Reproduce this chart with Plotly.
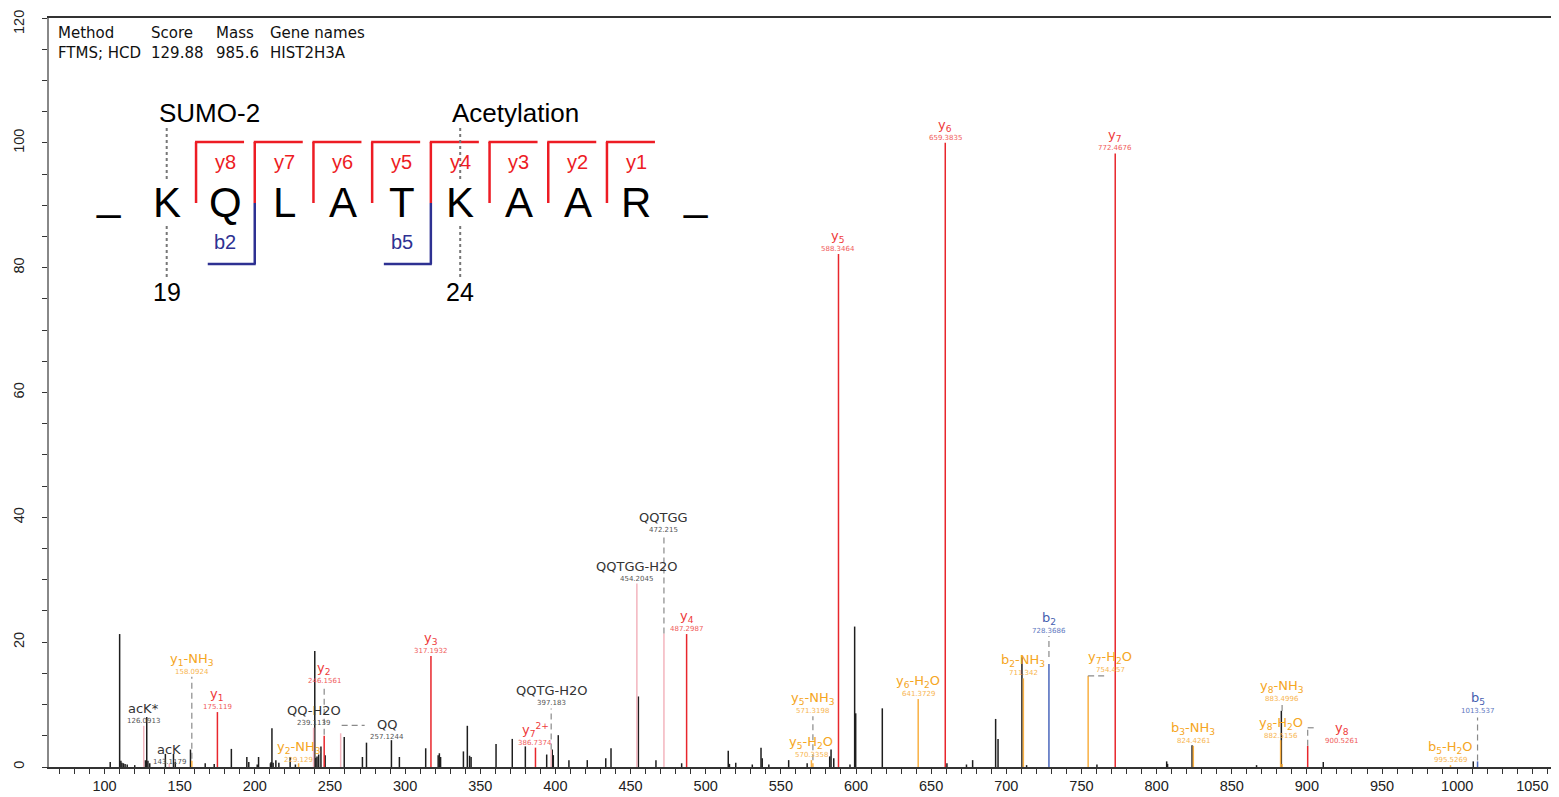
import plotly.graph_objects as go

# ---------------- data ----------------
# unannotated (black) peaks: m/z and relative intensity (%)
peak_mz = [103.8, 110.07, 110.9, 111.6, 112.6, 113.7, 115.1, 120.1, 127.1, 128.1, 128.9, 130.1,
           140.5, 145.9, 147.1, 157.2, 167.0, 173.0, 184.4, 194.7, 196.0, 201.6, 202.5, 210.4,
           210.9, 211.4, 212.2, 214.0, 216.0, 223.5, 227.0, 239.9, 240.6, 241.4, 242.5, 244.0,
           246.8, 259.5, 271.6, 274.3, 290.9, 296.2, 313.7, 322.0, 322.8, 323.6, 338.8, 341.4,
           342.9, 343.9, 360.5, 371.3, 380.0, 394.2, 397.9, 398.6, 401.9, 409.0, 421.2, 433.5,
           437.0, 455.2, 466.9, 484.0, 515.0, 515.8, 520.0, 531.0, 536.8, 537.6, 542.0, 555.2,
           567.5, 582.5, 583.4, 585.2, 596.0, 599.1, 599.8, 617.5, 660.5, 673.5, 677.6, 692.9,
           694.5, 710.4, 713.5, 760.3, 806.7, 807.3, 823.6, 866.5, 883.0, 910.9, 1010.7]
peak_int = [0.8, 21.3, 1.0, 0.7, 0.6, 0.5, 0.4, 0.3, 1.1, 8.0, 1.0, 0.6,
            2.1, 2.1, 0.8, 2.8, 0.6, 0.5, 2.9, 1.6, 0.8, 0.4, 1.6, 0.6,
            0.8, 6.2, 0.7, 1.1, 0.7, 1.6, 0.4, 18.6, 1.5, 1.7, 2.0, 3.3,
            1.9, 4.8, 1.6, 3.9, 4.3, 1.6, 3.0, 1.9, 2.2, 1.6, 2.5, 6.6,
            1.8, 1.6, 3.7, 4.5, 3.3, 2.0, 2.8, 1.9, 5.1, 1.1, 1.1, 1.4,
            3.0, 11.3, 1.1, 0.6, 2.6, 0.5, 0.7, 0.4, 3.1, 1.4, 0.4, 1.1,
            0.6, 1.7, 2.8, 1.4, 0.4, 22.5, 8.6, 9.4, 0.6, 0.4, 1.1, 7.7,
            4.5, 17.6, 0.3, 0.4, 0.9, 0.5, 3.5, 0.3, 9.0, 0.8, 0.9]

# annotated fragment ions
ion_key = ["acK*", "acK", "y1-NH3", "y1", "y2-NH3", "QQ-H2O", "y2", "QQ", "y3", "y7++",
           "QQTG-H2O", "QQTGG-H2O", "QQTGG", "y4", "y5-H2O", "y5-NH3", "y5", "y6-H2O", "y6",
           "b2-NH3", "b2", "y7-H2O", "y7", "b3-NH3", "y8-H2O", "y8-NH3", "y8", "b5-H2O", "b5"]
ion_text = ["acK*", "acK", "y<sub>1</sub>-NH<sub>3</sub>", "y<sub>1</sub>", "y<sub>2</sub>-NH<sub>3</sub>",
            "QQ-H2O", "y<sub>2</sub>", "QQ", "y<sub>3</sub>", "y<sub>7</sub><sup>2+</sup>",
            "QQTG-H2O", "QQTGG-H2O", "QQTGG", "y<sub>4</sub>", "y<sub>5</sub>-H<sub>2</sub>O",
            "y<sub>5</sub>-NH<sub>3</sub>", "y<sub>5</sub>", "y<sub>6</sub>-H<sub>2</sub>O", "y<sub>6</sub>",
            "b<sub>2</sub>-NH<sub>3</sub>", "b<sub>2</sub>", "y<sub>7</sub>-H<sub>2</sub>O", "y<sub>7</sub>",
            "b<sub>3</sub>-NH<sub>3</sub>", "y<sub>8</sub>-H<sub>2</sub>O", "y<sub>8</sub>-NH<sub>3</sub>",
            "y<sub>8</sub>", "b<sub>5</sub>-H<sub>2</sub>O", "b<sub>5</sub>"]
ion_mz = [126.0913, 143.1179, 158.0924, 175.119, 229.129, 239.1139, 246.1561, 257.1244, 317.1932,
          386.7374, 397.183, 454.2045, 472.215, 487.2987, 570.3358, 571.3198, 588.3464, 641.3729,
          659.3835, 711.342, 728.3686, 754.457, 772.4676, 824.4261, 882.5156, 883.4996, 900.5261,
          995.5269, 1013.537]
ion_int = [6.6, 0.5, 1.0, 8.8, 0.6, 6.3, 5.0, 5.4, 17.8, 3.1, 2.8, 29.4, 21.4, 21.3, 1.1, 0.6,
           82.2, 10.9, 100.0, 14.2, 16.5, 14.6, 98.3, 3.4, 4.3, 0.5, 3.4, 0.3, 0.9]
ion_kind = ["int", "int", "loss", "y", "loss", "int", "y", "int", "y", "y", "int", "int", "int", "y",
            "loss", "loss", "y", "loss", "y", "loss", "b", "loss", "y", "loss", "loss", "loss", "y",
            "loss", "b"]

# header table
header_cols = ["Method", "Score", "Mass", "Gene names"]
header_vals = ["FTMS; HCD", "129.88", "985.6", "HIST2H3A"]

# peptide sequence
sequence = ["_", "K", "Q", "L", "A", "T", "K", "A", "A", "R", "_"]
y_ions_seen = [1, 2, 3, 4, 5, 6, 7, 8]
b_ions_seen = [2, 5]
mods = [(1, "SUMO-2", "19"), (6, "Acetylation", "24")]

# axis ticks
x_ticks = list(range(100, 1051, 50))
y_ticks = list(range(0, 121, 20))

# ---------------- styles ----------------
BAR_COL = {"black": "#1e1e1e", "y": "#E8262C", "b": "#4A67BC", "loss": "#F9B043", "int": "#F3B5BE"}
NAME_COL = {"y": "#EE3A3A", "b": "#4560B0", "loss": "#F5A623", "int": "#333333"}
MZ_COL = {"y": "#F05C5C", "b": "#6078C0", "loss": "#F7B551", "int": "#555555"}

# label placement (px): lift = m/z text centre above peak top, dx = horizontal shift
label_pos = {
    "acK": dict(lift=2), "y2-NH3": dict(lift=3),
    "y1-NH3": dict(lift=89), "y2": dict(lift=55), "QQ": dict(lift=-4, dx=46),
    "QQTG-H2O": dict(lift=46.5), "QQTGG": dict(lift=103), "y5-NH3": dict(lift=52),
    "b2": dict(lift=33), "y7-H2O": dict(lift=6, dx=22), "y8-NH3": dict(lift=65),
    "y8": dict(lift=5, dx=34), "b5": dict(lift=50), "y8-H2O": dict(lift=4),
}
# dashed connectors (pixel segments relative to peak top)
connectors = {
    "y1-NH3": [(0, 2, 0, 84)], "y2": [(0, 1, 0, 50)], "QQ": [(1, 8, 24, 8)],
    "QQTG-H2O": [(0, 0, 0, 41)], "QQTGG": [(0, 0, 0, 98)], "y5-NH3": [(0, 3, 0, 47)],
    "b2": [(0, 7, 0, 28)], "y7-H2O": [(0, 0, 20, 0)], "y8-NH3": [(0, 53, 0, 60)],
    "y8": [(0, 0, 0, 18), (0, 18, 9, 18)], "b5": [(0, 1, 0, 44)],
}

LABEL_FONT = "DejaVu Sans"
AXIS_FONT = "Liberation Sans, Arial"

# page geometry (px, in window coordinates); the page body has an 8px margin
OFF = 8
W, H = 1551, 789
PL, PR, PT, PB = 49, 1555, 18, 767
XR = [63.07, 1065.07]
YR = [0, 120]


def px(xp):
    return (xp - PL) / (PR - PL)


def py(yp):
    return (PB - yp) / (PB - PT)


def sticks(mz, inten):
    xs, ys = [], []
    for m, i in zip(mz, inten):
        xs += [m, m, None]
        ys += [0, i, None]
    return xs, ys


fig = go.Figure()

bx, by = sticks(peak_mz, peak_int)
fig.add_trace(go.Scatter(x=bx, y=by, mode="lines", line=dict(color=BAR_COL["black"], width=1.5),
                         hoverinfo="skip", showlegend=False))
for kind in ["int", "loss", "b", "y"]:
    sel = [k for k, kk in enumerate(ion_kind) if kk == kind]
    xs, ys = sticks([ion_mz[k] for k in sel], [ion_int[k] for k in sel])
    fig.add_trace(go.Scatter(x=xs, y=ys, mode="lines", line=dict(color=BAR_COL[kind], width=1.5),
                             hoverinfo="skip", showlegend=False))

annotations = []
shapes = []
for k, key in enumerate(ion_key):
    kind = ion_kind[k]
    pos = label_pos.get(key, {})
    lift = pos.get("lift", 5)
    dx = pos.get("dx", 0)
    annotations.append(dict(x=ion_mz[k], y=ion_int[k], xref="x", yref="y", text=ion_text[k],
                            showarrow=False, xanchor="center", yanchor="middle",
                            xshift=dx, yshift=lift + 12.5,
                            font=dict(family=LABEL_FONT, size=13, color=NAME_COL[kind])))
    annotations.append(dict(x=ion_mz[k], y=ion_int[k], xref="x", yref="y", text=str(ion_mz[k]),
                            showarrow=False, xanchor="center", yanchor="middle",
                            xshift=dx, yshift=lift,
                            font=dict(family=LABEL_FONT, size=7, color=MZ_COL[kind])))
    for (x0, y0, x1, y1) in connectors.get(key, []):
        shapes.append(dict(type="line", xref="x", yref="y", xsizemode="pixel", ysizemode="pixel",
                           xanchor=ion_mz[k], yanchor=ion_int[k], x0=x0, x1=x1, y0=y0, y1=y1,
                           line=dict(color="#8a8a8a", width=1.2, dash="6px,4px")))

# header
col_x = [56, 149, 214, 268]
for cx, h, v in zip(col_x, header_cols, header_vals):
    annotations.append(dict(x=px(cx), y=py(33), xref="paper", yref="paper", text=h, showarrow=False,
                            xanchor="left", yanchor="middle",
                            font=dict(family=LABEL_FONT, size=15, color="#111")))
    annotations.append(dict(x=px(cx), y=py(53), xref="paper", yref="paper", text=v, showarrow=False,
                            xanchor="left", yanchor="middle",
                            font=dict(family=LABEL_FONT, size=15, color="#111")))

# top y tick label drawn as annotation so it stays inside the page
annotations.append(dict(x=px(19), y=py(22), xref="paper", yref="paper", text=str(y_ticks[-1]),
                        showarrow=False, textangle=-90, xanchor="center", yanchor="middle",
                        font=dict(family=AXIS_FONT, size=14.5, color="#222")))

# peptide sequence diagram
RED, BLUE = "#ED1C24", "#2E3192"
SX0, SDX = 108, 58.7
for i, aa in enumerate(sequence):
    annotations.append(dict(x=px(SX0 + i * SDX), y=py(203 if aa != "_" else 196), xref="paper",
                            yref="paper", text=aa, showarrow=False, xanchor="center",
                            yanchor="middle", font=dict(family=AXIS_FONT, size=42, color="#000")))
n_res = len(sequence) - 2
for n in y_ions_seen:
    j = n_res - n  # cut after residue j
    xc = SX0 + (j + 0.5) * SDX
    shapes.append(dict(type="line", xref="paper", yref="paper", x0=px(xc), x1=px(xc), y0=py(203),
                       y1=py(142), line=dict(color=RED, width=2.5)))
    shapes.append(dict(type="line", xref="paper", yref="paper", x0=px(xc - 1), x1=px(xc + 48),
                       y0=py(142), y1=py(142), line=dict(color=RED, width=2.5)))
    annotations.append(dict(x=px(xc + SDX / 2), y=py(162), xref="paper", yref="paper",
                            text="y%d" % n, showarrow=False, xanchor="center", yanchor="middle",
                            font=dict(family=AXIS_FONT, size=20, color=RED)))
for n in b_ions_seen:
    xc = SX0 + (n + 0.5) * SDX
    shapes.append(dict(type="line", xref="paper", yref="paper", x0=px(xc), x1=px(xc), y0=py(203),
                       y1=py(264), line=dict(color=BLUE, width=2.5)))
    shapes.append(dict(type="line", xref="paper", yref="paper", x0=px(xc - 47), x1=px(xc + 1),
                       y0=py(264), y1=py(264), line=dict(color=BLUE, width=2.5)))
    annotations.append(dict(x=px(xc - SDX / 2), y=py(242), xref="paper", yref="paper",
                            text="b%d" % n, showarrow=False, xanchor="center", yanchor="middle",
                            font=dict(family=AXIS_FONT, size=20, color=BLUE)))
for idx, name, num in mods:
    xc = SX0 + idx * SDX
    for (a, b) in [(128, 180), (226, 278)]:
        shapes.append(dict(type="line", xref="paper", yref="paper", x0=px(xc), x1=px(xc),
                           y0=py(a), y1=py(b), line=dict(color="#777", width=2, dash="dot")))
    annotations.append(dict(x=px(xc - 10), y=py(113), xref="paper", yref="paper", text=name,
                            showarrow=False, xanchor="left", yanchor="middle",
                            font=dict(family=AXIS_FONT, size=26, color="#000")))
    annotations.append(dict(x=px(xc), y=py(292), xref="paper", yref="paper", text=num,
                            showarrow=False, xanchor="center", yanchor="middle",
                            font=dict(family=AXIS_FONT, size=25, color="#000")))

# right border
shapes.append(dict(type="line", xref="paper", yref="paper", x0=1, x1=1, y0=0, y1=1,
                   line=dict(color="#222", width=1.2)))

fig.update_layout(
    width=W, height=H, autosize=False,
    margin=dict(l=PL - OFF, r=W - (PR - OFF), t=PT - OFF, b=H - (PB - OFF), pad=0,
                autoexpand=False),
    paper_bgcolor="white", plot_bgcolor="white",
    annotations=annotations, shapes=shapes,
    xaxis=dict(range=XR, showgrid=False, zeroline=False, showline=True, linecolor="#333",
               linewidth=1.5, mirror=True, ticks="outside", ticklen=5, tickcolor="#333",
               automargin=False,
               tickmode="array", tickvals=x_ticks, ticktext=[str(v) for v in x_ticks],
               minor=dict(tickmode="array", tickvals=list(range(70, 1061, 10)), ticks="outside",
                          ticklen=5, tickcolor="#333"),
               tickfont=dict(family=AXIS_FONT, size=14.5, color="#222")),
    yaxis=dict(range=YR, showgrid=False, zeroline=False, showline=True, linecolor="#888",
               linewidth=2, ticks="outside", ticklen=5, tickcolor="#333",
               automargin=False,
               tickmode="array", tickvals=y_ticks,
               ticktext=[str(v) if v != y_ticks[-1] else "" for v in y_ticks], tickangle=-90,
               minor=dict(tickmode="array", tickvals=list(range(0, 121, 5)), ticks="outside",
                          ticklen=5, tickcolor="#333"),
               ticklabelstandoff=12, ticklabeloverflow="allow",
               tickfont=dict(family=AXIS_FONT, size=14.5, color="#222")),
)

fig.write_html("out.html")
